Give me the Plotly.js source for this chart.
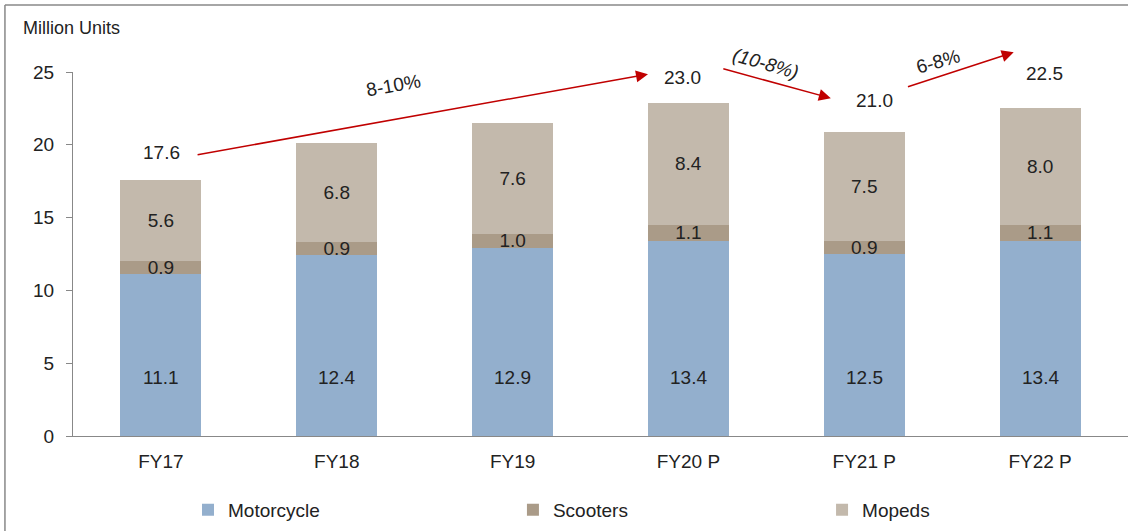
<!DOCTYPE html>
<html>
<head>
<meta charset="utf-8">
<script src="https://cdn.plot.ly/plotly-3.0.1.min.js"></script>
<style>html,body{margin:0;padding:0;background:#fff;}#chart{width:1128px;height:531px;}</style>
</head>
<body>
<div id="chart"></div>
<script>
// ---- data ----
const categories = ['FY17', 'FY18', 'FY19', 'FY20 P', 'FY21 P', 'FY22 P'];
const motorcycle = [11.1, 12.4, 12.9, 13.4, 12.5, 13.4];
const scooters   = [0.9, 0.9, 1.0, 1.1, 0.9, 1.1];
const mopeds     = [5.6, 6.8, 7.6, 8.4, 7.5, 8.0];
const totals     = [17.6, 20.1, 21.5, 23.0, 21.0, 22.5];
const totalShown = [true, false, false, true, true, true];
const growthLabels = ['8-10%', '(10-8%)', '6-8%'];

const FAM = 'Liberation Sans, Arial, sans-serif';
const font = {family: FAM, size: 19, color: '#222'};
const colors = {moto: '#93afcd', scoot: '#aa9b88', moped: '#c3b9ac'};

const fmt = v => v.toFixed(1);

const traces = [
  {type: 'bar', name: 'Motorcycle', x: categories, y: motorcycle,
   marker: {color: colors.moto}, hoverinfo: 'skip', legend: 'legend'},
  {type: 'bar', name: 'Scooters', x: categories, y: scooters,
   text: scooters.map(fmt), textposition: 'inside', insidetextanchor: 'middle',
   constraintext: 'none', textfont: font,
   marker: {color: colors.scoot}, hoverinfo: 'skip', legend: 'legend2'},
  {type: 'bar', name: 'Mopeds', x: categories, y: mopeds,
   text: mopeds.map(fmt), textposition: 'inside', insidetextanchor: 'middle',
   constraintext: 'none', textfont: font,
   marker: {color: colors.moped}, hoverinfo: 'skip', legend: 'legend3'}
];

const annotations = [];
// Motorcycle segment labels (placed in the lower part of the bar)
motorcycle.forEach((v, i) => {
  annotations.push({x: categories[i], y: 4, text: fmt(v), showarrow: false,
    font: font, xanchor: 'center', yanchor: 'middle'});
});
// Total labels above some bars
const totalShift = [[1, 27], null, null, [-6, 24], [10, 30], [4, 35]];
totals.forEach((v, i) => {
  if (!totalShown[i]) return;
  annotations.push({x: categories[i], y: v, text: fmt(v), showarrow: false,
    font: font, xanchor: 'center', yanchor: 'middle',
    xshift: totalShift[i][0], yshift: totalShift[i][1]});
});
// Growth arrows (tail -> head, in category index / value units)
const arrowGeom = [
  {tail: [0.20, 19.3], head: [2.77, 24.85]},
  {tail: [3.19, 25.25], head: [3.81, 23.2]},
  {tail: [4.24, 23.95], head: [4.85, 26.35]}
];
arrowGeom.forEach(a => {
  annotations.push({x: a.head[0], y: a.head[1], ax: a.tail[0], ay: a.tail[1],
    xref: 'x', yref: 'y', axref: 'x', ayref: 'y', text: '', showarrow: true,
    arrowhead: 2, arrowsize: 1.6, arrowwidth: 1.5, arrowcolor: '#c00000', standoff: 0});
});
// growth label positions: x in category units, y as fraction of plot height
const growthPos = [
  {x: 1.32, y: 0.962, angle: -10, italic: false},
  {x: 3.44, y: 1.024, angle: 16, italic: true},
  {x: 4.42, y: 1.028, angle: -16, italic: false}
];
growthLabels.forEach((t, i) => {
  const g = growthPos[i];
  annotations.push({x: g.x, y: g.y, xref: 'x', yref: 'paper',
    text: g.italic ? '<i>' + t + '</i>' : t,
    showarrow: false, textangle: g.angle, font: font, xanchor: 'center', yanchor: 'middle'});
});
// Unit label
annotations.push({xref: 'paper', yref: 'paper', x: -0.049, y: 1.121, text: 'Million Units',
  showarrow: false, xanchor: 'left', yanchor: 'middle',
  font: {family: FAM, size: 18, color: '#222'}});

const legendBase = {orientation: 'h', xanchor: 'left', y: -0.203, yanchor: 'middle',
  font: font, itemwidth: 30, bgcolor: 'rgba(0,0,0,0)'};

const layout = {
  width: 1128, height: 531,
  margin: {l: 73, r: 0, t: 72, b: 95, pad: 0},
  paper_bgcolor: '#fff', plot_bgcolor: '#fff',
  font: font,
  barmode: 'stack',
  bargap: 0.54,
  showlegend: true,
  legend:  Object.assign({}, legendBase, {x: 0.109}),
  legend2: Object.assign({}, legendBase, {x: 0.417}),
  legend3: Object.assign({}, legendBase, {x: 0.710}),
  xaxis: {type: 'category', range: [-0.5, 5.5], showline: true, linecolor: '#888', linewidth: 1,
    ticks: '', showgrid: false, zeroline: false, tickfont: font, ticklabelstandoff: 8, fixedrange: true},
  yaxis: {range: [0, 25], dtick: 5, showline: true, linecolor: '#888', linewidth: 1,
    ticks: 'outside', ticklen: 6, tickcolor: '#888', showgrid: false, zeroline: false,
    tickfont: font, ticklabelstandoff: 8, fixedrange: true},
  annotations: annotations,
  shapes: [
    {type: 'line', xref: 'paper', yref: 'paper', x0: -0.0645, x1: -0.0645, y0: -0.3, y1: 1.184,
     line: {color: '#888', width: 1.5}},
    {type: 'line', xref: 'paper', yref: 'paper', x0: -0.0645, x1: 1.05, y0: 1.184, y1: 1.184,
     line: {color: '#888', width: 1.5}}
  ]
};

Plotly.newPlot('chart', traces, layout, {staticPlot: true, displayModeBar: false});
</script>
</body>
</html>
